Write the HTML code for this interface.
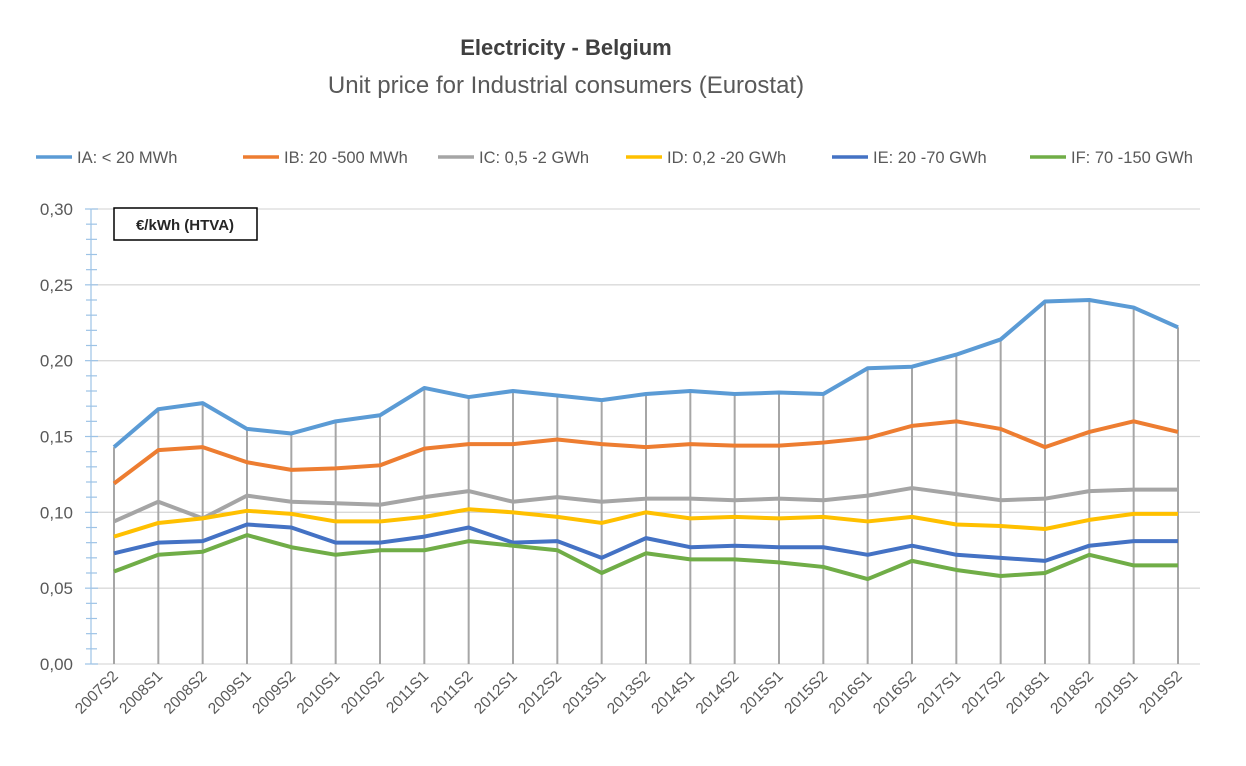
<!DOCTYPE html>
<html><head><meta charset="utf-8"><style>
body{margin:0;background:#fff;}
svg{display:block;font-family:"Liberation Sans",sans-serif;}
</style></head><body>
<svg id="chart" width="1246" height="766">
<text x="566" y="55" text-anchor="middle" font-size="22" font-weight="bold" fill="#404040">Electricity - Belgium</text>
<text x="566" y="93" text-anchor="middle" font-size="24" fill="#595959">Unit price for Industrial consumers (Eurostat)</text>
<g id="legend"></g>
<g id="grid"></g>
<g id="drops"></g>
<g id="yaxis"></g>
<g id="lines"></g>
<g id="xlabels"></g>
<rect x="114" y="208" width="143" height="32" fill="#fff" stroke="#000" stroke-width="1.5"/>
<text x="185" y="230" text-anchor="middle" font-size="15" font-weight="bold" fill="#262626">€/kWh (HTVA)</text>
</svg>
<script>
const categories=["2007S2","2008S1","2008S2","2009S1","2009S2","2010S1","2010S2","2011S1","2011S2","2012S1","2012S2","2013S1","2013S2","2014S1","2014S2","2015S1","2015S2","2016S1","2016S2","2017S1","2017S2","2018S1","2018S2","2019S1","2019S2"];
const seriesNames=["IA: < 20 MWh","IB: 20 -500 MWh","IC: 0,5 -2 GWh","ID: 0,2 -20 GWh","IE: 20 -70 GWh","IF: 70 -150 GWh"];
const seriesColors=["#5b9bd5","#ed7d31","#a5a5a5","#ffc000","#4472c4","#70ad47"];
const IA=[0.143,0.168,0.172,0.155,0.152,0.160,0.164,0.182,0.176,0.180,0.177,0.174,0.178,0.180,0.178,0.179,0.178,0.195,0.196,0.204,0.214,0.239,0.240,0.235,0.222];
const IB=[0.119,0.141,0.143,0.133,0.128,0.129,0.131,0.142,0.145,0.145,0.148,0.145,0.143,0.145,0.144,0.144,0.146,0.149,0.157,0.160,0.155,0.143,0.153,0.160,0.153];
const IC=[0.094,0.107,0.096,0.111,0.107,0.106,0.105,0.110,0.114,0.107,0.110,0.107,0.109,0.109,0.108,0.109,0.108,0.111,0.116,0.112,0.108,0.109,0.114,0.115,0.115];
const ID=[0.084,0.093,0.096,0.101,0.099,0.094,0.094,0.097,0.102,0.100,0.097,0.093,0.100,0.096,0.097,0.096,0.097,0.094,0.097,0.092,0.091,0.089,0.095,0.099,0.099];
const IE=[0.073,0.080,0.081,0.092,0.090,0.080,0.080,0.084,0.090,0.080,0.081,0.070,0.083,0.077,0.078,0.077,0.077,0.072,0.078,0.072,0.070,0.068,0.078,0.081,0.081];
const IF=[0.061,0.072,0.074,0.085,0.077,0.072,0.075,0.075,0.081,0.078,0.075,0.060,0.073,0.069,0.069,0.067,0.064,0.056,0.068,0.062,0.058,0.060,0.072,0.065,0.065];
const yTicks=["0,00","0,05","0,10","0,15","0,20","0,25","0,30"];
const yTickVals=[0,0.05,0.10,0.15,0.20,0.25,0.30];
const series=[IA,IB,IC,ID,IE,IF];
const NS="http://www.w3.org/2000/svg";
const x=i=>114+i*(1178-114)/(categories.length-1);
const y=v=>664-v*(664-209)/0.30;
function mk(tag,attrs,parent){const e=document.createElementNS(NS,tag);for(const k in attrs)e.setAttribute(k,attrs[k]);document.getElementById(parent).appendChild(e);return e;}
yTickVals.forEach((v,i)=>{
 const g=mk('line',{x1:92,x2:1200,y1:y(v),y2:y(v),stroke:'#d9d9d9','stroke-width':1.3},'grid');
 
 
 const t=mk('text',{x:73,y:y(v)+6,'text-anchor':'end','font-size':17,fill:'#595959'},'yaxis');
 t.textContent=yTicks[i];
 
 
});
const ax=mk('line',{x1:91,x2:91,y1:y(0.30),y2:y(0),stroke:'#9dc3e6','stroke-width':1.2},'yaxis');


for(let k=0;k<=30;k++){const v=k*0.01;const major=k%5===0;
 const tk=mk('line',{x1:major?85:86,x2:major?98:97,y1:y(v),y2:y(v),stroke:'#9dc3e6','stroke-width':1.2},'yaxis');
 
 }
categories.forEach((c,i)=>{
 const top=Math.max(...series.map(s=>s[i]));
 const d=mk('line',{x1:x(i),x2:x(i),y1:y(top),y2:y(0),stroke:'#a6a6a6','stroke-width':2},'drops');
 
 
 const t=mk('text',{x:0,y:0,'text-anchor':'end','font-size':15.5,fill:'#595959',transform:`translate(${x(i)+5},${y(0)+13}) rotate(-45)`},'xlabels');
 t.textContent=c;
 
 
});
series.forEach((s,j)=>{
 const p=mk('polyline',{points:s.map((v,i)=>x(i)+','+y(v)).join(' '),fill:'none',stroke:seriesColors[j],'stroke-width':4,'stroke-linejoin':'round'},'lines');
 
 
});
const lx=[36,243,438,626,832,1030];
seriesNames.forEach((n,j)=>{
 const l=mk('line',{x1:lx[j],x2:lx[j]+36,y1:157,y2:157,stroke:seriesColors[j],'stroke-width':3.5},'legend');
 
 
 const t=mk('text',{x:lx[j]+41,y:163,'font-size':16.5,fill:'#595959'},'legend');
 t.textContent=n;
 
 
});
</script>
</body></html>
